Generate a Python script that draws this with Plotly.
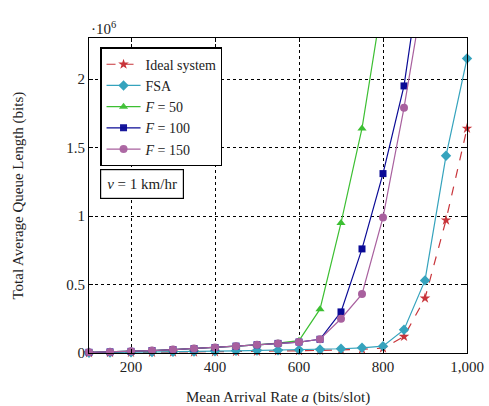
import plotly.graph_objects as go

# Mean arrival rate a (bits/slot)
arrival_rate = [100, 150, 200, 250, 300, 350, 400, 450, 500, 550,
                600, 650, 700, 750, 800, 850, 900, 950, 1000]

# Total average queue length (x 10^6 bits)
ideal_system = [0.001, 0.002, 0.003, 0.004, 0.005, 0.006, 0.008, 0.010, 0.012, 0.014,
                0.016, 0.019, 0.022, 0.027, 0.035, 0.12, 0.40, 0.97, 1.64]
fsa = [0.002, 0.003, 0.005, 0.007, 0.009, 0.011, 0.013, 0.016, 0.018, 0.020,
       0.023, 0.026, 0.031, 0.038, 0.05, 0.17, 0.53, 1.44, 2.15]
f50 = [0.005, 0.008, 0.012, 0.018, 0.025, 0.032, 0.040, 0.050, 0.060, 0.072,
       0.09, 0.32, 0.95, 1.64, 2.6]
f100 = [0.005, 0.008, 0.012, 0.018, 0.025, 0.032, 0.040, 0.050, 0.060, 0.070,
        0.08, 0.10, 0.30, 0.76, 1.31, 1.95, 3.0]
f150 = [0.005, 0.008, 0.012, 0.018, 0.025, 0.032, 0.040, 0.050, 0.060, 0.070,
        0.08, 0.10, 0.25, 0.43, 0.99, 1.79, 2.7]

x_ticks = [200, 400, 600, 800, 1000]
x_tick_labels = ["200", "400", "600", "800", "1,000"]
y_ticks = [0, 0.5, 1, 1.5, 2]
y_tick_labels = ["0", "0.5", "1", "1.5", "2"]

X_RANGE = [100, 1000]
Y_RANGE = [0, 2.3]

SERIF = "Liberation Serif, Times New Roman, serif"
INK = "#222"

series = [
    ("Ideal system", ideal_system, "#c8343a", "star", "dash", 8),
    ("FSA", fsa, "#35a3bd", "diamond", "solid", 8),
    ("<i>F</i> = 50", f50, "#3cbf32", "triangle-up", "solid", 8),
    ("<i>F</i> = 100", f100, "#0a0a96", "square", "solid", 7),
    ("<i>F</i> = 150", f150, "#a8609e", "circle", "solid", 8),
]

fig = go.Figure()
for name, values, color, symbol, dash, size in series:
    xs = arrival_rate[:len(values)]
    # hide markers that fall above the visible range; the line still runs off the top
    opac = [1 if v <= Y_RANGE[1] else 0 for v in values]
    fig.add_trace(go.Scatter(
        x=xs, y=values, name=name, mode="lines+markers",
        line=dict(color=color, width=1.2, dash=dash),
        marker=dict(symbol=symbol, size=size, color=color, opacity=opac,
                    line=dict(width=0)),
        cliponaxis=False,
    ))

axis_common = dict(
    showline=True, linecolor="black", linewidth=1.2, mirror="ticks",
    ticks="inside", ticklen=4, tickcolor="black",
    showgrid=True, gridcolor="black", griddash="dot", gridwidth=1,
    zeroline=False, automargin=False,
    tickfont=dict(family=SERIF, size=15, color=INK),
)

fig.update_xaxes(range=X_RANGE, tickvals=x_ticks, ticktext=x_tick_labels,
                 **axis_common)
fig.update_yaxes(range=Y_RANGE, tickvals=y_ticks, ticktext=y_tick_labels,
                 **axis_common)

fig.update_layout(
    width=489, height=406,
    margin=dict(l=89, r=22, t=38, b=53),
    paper_bgcolor="white", plot_bgcolor="white",
    font=dict(family=SERIF, size=14, color=INK),
    showlegend=True,
    legend=dict(x=0.03, y=0.97, xanchor="left", yanchor="top",
                bgcolor="white", bordercolor="black", borderwidth=1.2,
                font=dict(family=SERIF, size=14, color=INK),
                tracegroupgap=0, itemwidth=34),
    annotations=[
        # axis titles
        dict(text="Mean Arrival Rate <i>a</i> (bits/slot)", xref="paper", yref="paper",
             x=0.5, y=0, xanchor="center", yanchor="middle", yshift=-44,
             showarrow=False, font=dict(family=SERIF, size=15, color=INK)),
        dict(text="Total Average Queue Length (bits)", xref="paper", yref="paper",
             x=0, y=0.5, xanchor="center", yanchor="middle", xshift=-71,
             textangle=-90, showarrow=False,
             font=dict(family=SERIF, size=15, color=INK)),
        # speed note
        dict(text="<i>v</i> = 1 km/hr", xref="paper", yref="paper",
             x=0.03, y=0.585, xanchor="left", yanchor="top", showarrow=False,
             bgcolor="white", bordercolor="black", borderwidth=1.2, borderpad=6,
             font=dict(family=SERIF, size=15, color=INK)),
        # y scale factor
        dict(text="·10<sup>6</sup>", xref="paper", yref="paper",
             x=0.0, y=1.0, xanchor="left", yanchor="bottom", showarrow=False,
             yshift=-1, font=dict(family=SERIF, size=15, color=INK)),
    ],
)

fig.write_html("out.html")
